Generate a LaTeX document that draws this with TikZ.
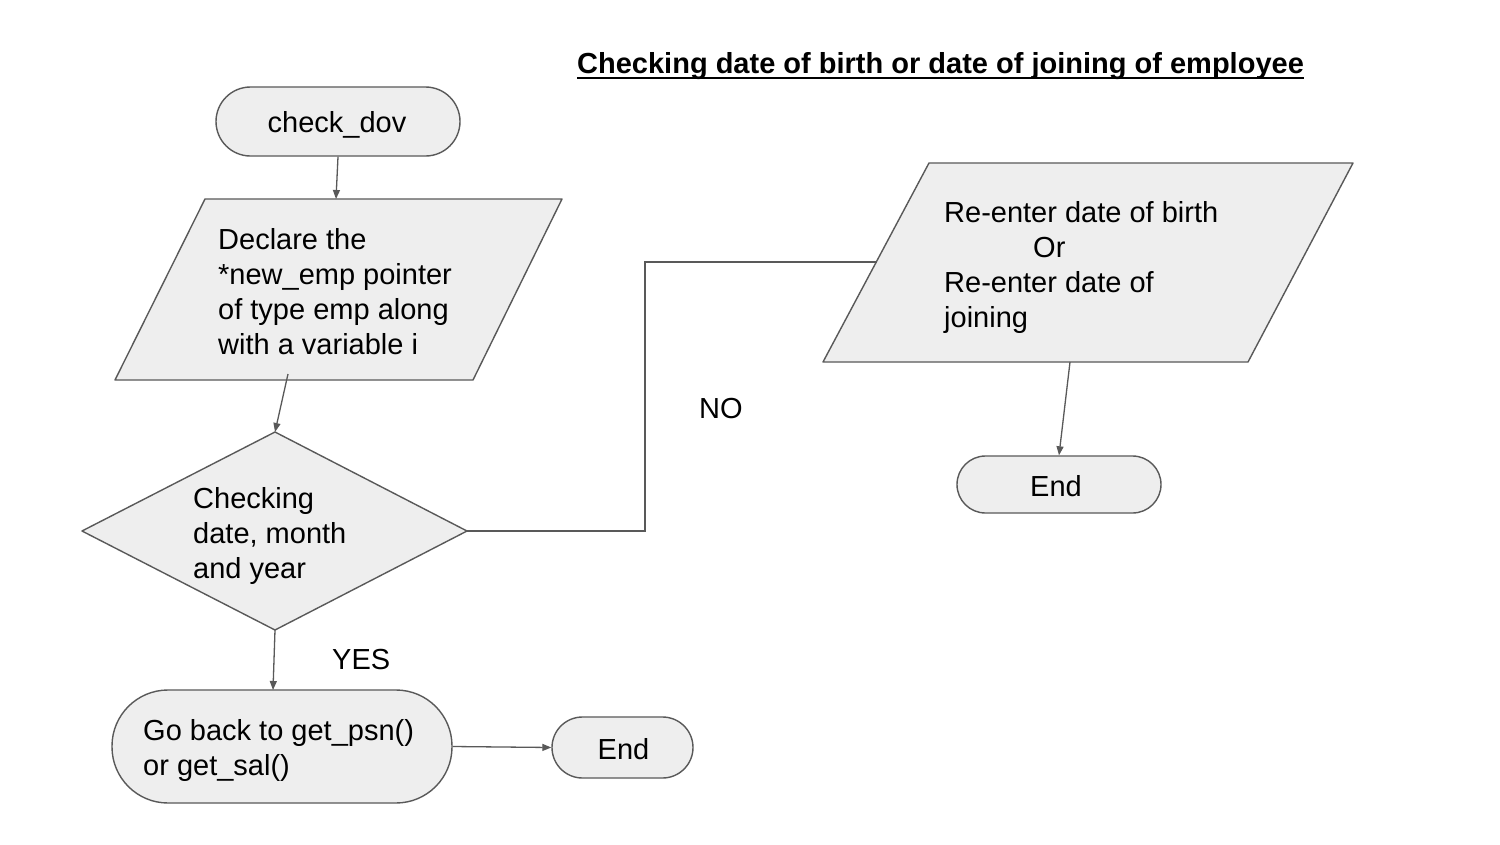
\documentclass[tikz,border=0pt]{standalone}
\usepackage{fontspec}
\setmainfont{Liberation Sans}
\usetikzlibrary{arrows.meta}
\definecolor{shapefill}{HTML}{EEEEEE}
\definecolor{edgegray}{HTML}{595959}
\newcommand\mlines[1]{\begin{tabular}[t]{@{}l@{}}#1\end{tabular}}
\newcommand\myul[1]{\setbox0\hbox{#1}\rlap{\vrule width\wd0 height -3.5pt depth 5.5pt}\box0}
\tikzset{
  shapebox/.style={draw=edgegray, fill=shapefill, line width=1.4pt, line join=round},
  stadium/.style={shapebox, inner sep=0pt},
  txt/.style={inner sep=0pt, font=\fontsize{29}{35}\selectfont, anchor=base west},
  ctxt/.style={inner sep=0pt, font=\fontsize{29}{35}\selectfont, anchor=base},
  arr/.style={draw=edgegray, line width=1.3pt, -{Triangle[length=9pt,width=7pt]}},
  conn/.style={draw=edgegray, line width=1.3pt}
}
\begin{document}
\begin{tikzpicture}[x=1pt,y=-1pt]
\useasboundingbox (0,0) rectangle (1500,844);
\fill[white] (0,0) rectangle (1500,844);

% title
\node[inner sep=0pt, anchor=base west, font=\fontsize{29}{35}\selectfont\bfseries] (title) at (577,73) {\myul{Checking date of birth or date of joining of employee}};

% start
\node[stadium, rounded corners=34.5pt, minimum width=244pt, minimum height=69pt] (cd) at (338,121.5) {};
\node[ctxt] (cdt) at (337,132) {check\_dov};

% parallelogram 1
\draw[shapebox] (205,199) coordinate (p1tl) -- (562,199) coordinate (p1tr) -- (473,380) coordinate (p1br) -- (115,380) coordinate (p1bl) -- cycle;
\coordinate (p1in) at (336,199);
\coordinate (p1out) at (288,374);
\node[txt] (p1t) at (218,249) {\mlines{Declare the\\{*}new\_emp pointer\\of type emp along\\with a variable i}};

% diamond
\draw[shapebox] (82,531) coordinate (dl) -- (275,432) coordinate (dt) -- (467,531) coordinate (dr) -- (275,630) coordinate (db) -- cycle;
\node[txt] (dtxt) at (193,508) {\mlines{Checking\\date, month\\and year}};

% go back
\node[stadium, rounded corners=56pt, minimum width=340pt, minimum height=113pt] (gb) at (282,746.5) {};
\node[txt] (gbt) at (143,740) {\mlines{Go back to get\_psn()\\or get\_sal()}};
\coordinate (gbin) at (273,690);

% end 1
\node[stadium, rounded corners=30.5pt, minimum width=141pt, minimum height=61pt] (e1) at (622.5,747.5) {};
\node[ctxt] (e1t) at (623.5,759) {End};

% parallelogram 2
\draw[shapebox] (929,163) coordinate (p2tl) -- (1353,163) coordinate (p2tr) -- (1248,362) coordinate (p2br) -- (823,362) coordinate (p2bl) -- cycle;
\coordinate (p2in) at (877,262);
\coordinate (p2out) at (1070,362);
\node[txt] (p2t) at (944,222) {\mlines{Re-enter date of birth\\\hspace{89pt}Or\\Re-enter date of\\joining}};

% end 2
\node[stadium, rounded corners=28.5pt, minimum width=204pt, minimum height=57pt] (e2) at (1059,484.5) {};
\node[ctxt] (e2t) at (1056,496) {End};

% labels
\node[txt] (yes) at (332,669) {YES};
\node[txt] (no) at (699,418) {NO};

% connectors
\draw[arr] (cd.south) -- (p1in);
\draw[arr] (p1out) -- (dt);
\draw[arr] (db) -- (gbin);
\draw[arr] (gb.east) -- (e1.west);
\draw[conn] (dr) -- ++(178,0) |- (p2in);
\draw[arr] (p2out) -- (e2.north);
\end{tikzpicture}
\end{document}
